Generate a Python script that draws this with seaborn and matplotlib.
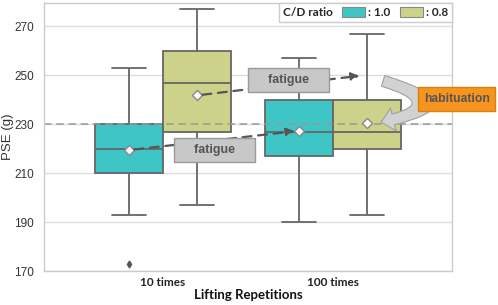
import numpy as np
import pandas as pd
import matplotlib
matplotlib.use("Agg")
import matplotlib.pyplot as plt
import seaborn as sns
from matplotlib.patches import Patch, FancyArrowPatch

# estimated readings per condition (chosen to reproduce the box stats in the figure)
reps = ["10 times", "100 times"]
ratios = [": 1.0", ": 0.8"]
pse_10_r10 = [173, 193, 210, 218, 220, 228, 230, 250, 253]
pse_10_r08 = [197, 215, 227, 235, 247, 250, 260, 268, 277]
pse_100_r10 = [190, 205, 217, 222, 227, 236, 240, 252, 257]
pse_100_r08 = [193, 210, 220, 224, 227, 236, 240, 256, 267]
colors = ["#3EC6C6", "#CDD28A"]
yticks = [170, 190, 210, 230, 250, 270]
ref_line = 230

groups = [(reps[0], ratios[0], pse_10_r10), (reps[0], ratios[1], pse_10_r08),
          (reps[1], ratios[0], pse_100_r10), (reps[1], ratios[1], pse_100_r08)]
rows = []
for rep, ratio, vals in groups:
    for v in vals:
        rows.append({"rep": rep, "ratio": ratio, "pse": v})
df = pd.DataFrame(rows)

sns.set_style("white")
plt.rcParams["font.family"] = ["Liberation Sans", "DejaVu Sans"]
humanist = ["Lato", "Open Sans", "DejaVu Sans"]

fig = plt.figure(figsize=(4.98, 3.05), dpi=100)
ax = fig.add_axes([0.088, 0.111, 0.82, 0.879])

line_c = "#666666"
sns.boxplot(data=df, x="rep", y="pse", hue="ratio", order=reps, hue_order=ratios,
            palette=colors, width=0.8, linecolor=line_c, linewidth=1.3,
            showmeans=True, saturation=1, ax=ax, legend=False,
            meanprops=dict(marker="D", markerfacecolor="white", markeredgecolor="#888888",
                           markersize=5),
            flierprops=dict(marker="d", markerfacecolor="#555555", markeredgecolor="#555555",
                            markersize=3.5))

ax.set_xlim(-0.7, 1.7)
ax.set_ylim(170, 279.5)
ax.set_yticks(yticks)
ax.yaxis.grid(True, color="#DDDDDD", linewidth=1)
ax.set_axisbelow(True)
ax.axhline(ref_line, color="#999999", linestyle=(0, (5, 3)), linewidth=1.1, zorder=2.05)
for s in ax.spines.values():
    s.set_color("#CCCCCC")
    s.set_linewidth(1)

ax.tick_params(axis="y", length=0, pad=7, labelsize=8.5, labelcolor="#333333")
ax.tick_params(axis="x", length=0, pad=4, labelsize=8.5, labelcolor="#222222")
for lab in ax.get_xticklabels():
    lab.set_family(humanist)
    lab.set_fontweight("bold")
ax.set_xlabel("Lifting Repetitions", fontsize=9.5, family=humanist,
              fontweight="bold", color="#111111", labelpad=1)
ax.set_ylabel("PSE (g)", fontsize=9.5, color="#333333")
ax.yaxis.set_label_coords(-0.073, 0.5)

# arrows between means
dodge = 0.2
means = [np.mean(g[2]) for g in groups]
arr_kw = dict(arrowstyle="-|>", color="#555555", lw=1.6, linestyle=(0, (4, 3)),
              mutation_scale=12, zorder=3, shrinkA=4, shrinkB=3)
ax.annotate("", xy=(1 - dodge, means[2]), xytext=(0 - dodge, means[0]), arrowprops=arr_kw)
ax.annotate("", xy=(1 + dodge - 0.02, 250), xytext=(0 + dodge, means[1]), arrowprops=arr_kw)

box_kw = dict(boxstyle="square,pad=0.48", facecolor="#C8C8C8", edgecolor="#9A9A9A", lw=1)
ax.text(0.738, 248.2, "    fatigue    ", ha="center", va="center", fontsize=9,
        fontweight="bold", color="#555555", bbox=box_kw, zorder=4)
ax.text(0.306, 219.3, "    fatigue    ", ha="center", va="center", fontsize=9,
        fontweight="bold", color="#555555", bbox=box_kw, zorder=4)

# habituation curved arrow
curve = FancyArrowPatch((1.294, 247.7), (1.282, 230.9), connectionstyle="arc3,rad=-2.0",
                        arrowstyle="simple,head_length=0.9,head_width=1.7,tail_width=0.8",
                        mutation_scale=10, facecolor="#D2D2D2", edgecolor="#A0A0A0",
                        lw=0.8, zorder=3, clip_on=False, shrinkA=0, shrinkB=0)
ax.add_patch(curve)
ax.text(1.726, 240.3, "habituation", ha="center", va="center", fontsize=8.7,
        fontweight="bold", color="#555555", zorder=5, clip_on=False,
        bbox=dict(boxstyle="square,pad=0.46", facecolor="#F7941D", edgecolor="#D9800F", lw=1))

handles = [Patch(facecolor=c, edgecolor="#888888", lw=0.8) for c in colors]
leg = ax.legend(handles, ratios, title="C/D ratio", ncol=2, loc="upper right",
                bbox_to_anchor=(1.0, 1.0), borderaxespad=0.0, fancybox=False,
                edgecolor="#CCCCCC", framealpha=1, handlelength=1.95, handleheight=0.85,
                handletextpad=0.25, columnspacing=0.8, borderpad=0.35,
                prop={"family": humanist, "weight": "bold", "size": 8.5},
                title_fontproperties={"family": humanist, "weight": "bold", "size": 8.5})
leg.get_frame().set_linewidth(1)
# put the title to the left of the entries
vp = leg._legend_box
title_box, columns = vp.get_children()
vp._children = [columns]
columns._children = [title_box] + columns.get_children()

fig.savefig("out.png", dpi=100)
